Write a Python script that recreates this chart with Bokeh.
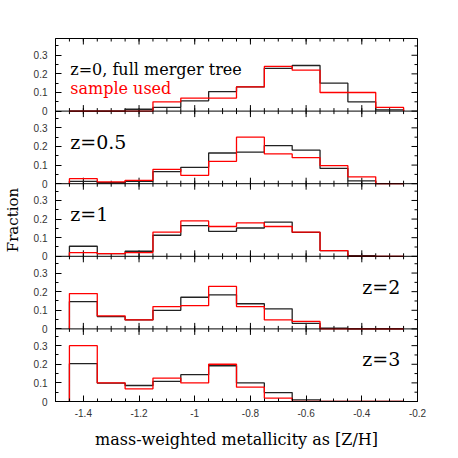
import math
from bokeh.plotting import figure
from bokeh.models import FixedTicker, Label, Span
from bokeh.embed import file_html
from bokeh.resources import INLINE

# ---- data ----
bin_centers = [-1.4, -1.3, -1.2, -1.1, -1.0, -0.9, -0.8, -0.7, -0.6, -0.5, -0.4, -0.3]
bin_width = 0.1

full_z0 = [0.0, 0.0, 0.01, 0.02, 0.055, 0.105, 0.13, 0.23, 0.245, 0.15, 0.05, 0.007]
used_z0 = [0.0, 0.0, 0.0, 0.05, 0.07, 0.07, 0.13, 0.24, 0.22, 0.10, 0.10, 0.02]
full_z05 = [0.013, 0.005, 0.013, 0.065, 0.088, 0.165, 0.17, 0.205, 0.18, 0.082, 0.015, 0.0]
used_z05 = [0.027, 0.01, 0.018, 0.077, 0.045, 0.12, 0.25, 0.16, 0.14, 0.097, 0.037, 0.0]
full_z1 = [0.054, 0.014, 0.027, 0.113, 0.165, 0.134, 0.152, 0.184, 0.128, 0.03, 0.003, 0.0]
used_z1 = [0.02, 0.014, 0.02, 0.13, 0.19, 0.16, 0.18, 0.16, 0.13, 0.03, 0.0, 0.0]
full_z2 = [0.147, 0.066, 0.048, 0.10, 0.17, 0.183, 0.135, 0.108, 0.03, 0.004, 0.0, 0.0]
used_z2 = [0.19, 0.07, 0.048, 0.12, 0.125, 0.228, 0.12, 0.048, 0.04, 0.0, 0.0, 0.0]
full_z3 = [0.203, 0.099, 0.086, 0.108, 0.144, 0.192, 0.10, 0.048, 0.009, 0.0, 0.0, 0.0]
used_z3 = [0.30, 0.10, 0.068, 0.126, 0.10, 0.20, 0.077, 0.018, 0.0, 0.0, 0.0, 0.0]

panel_full = [full_z0, full_z05, full_z1, full_z2, full_z3]
panel_used = [used_z0, used_z05, used_z1, used_z2, used_z3]
panel_labels = ["z=0, full merger tree", "z=0.5", "z=1", "z=2", "z=3"]
used_label = "sample used"

x_major = [-1.4, -1.2, -1.0, -0.8, -0.6, -0.4, -0.2]
x_major_labels = ["-1.4", "-1.2", "-1", "-0.8", "-0.6", "-0.4", "-0.2"]
x_minor = [round(-1.5 + 0.05 * i, 2) for i in range(27)]
y_major = [0.0, 0.1, 0.2, 0.3]
y_major_labels = ["0", "0.1", "0.2", "0.3"]
y_minor = [0.05, 0.15, 0.25, 0.35]

x_title = "mass-weighted metallicity as [Z/H]"
y_title = "Fraction"

X0, X1 = -1.5, -0.2
PANEL_H = 0.39          # data height of one panel
NP = len(panel_full)

SERIF = "DejaVu Serif"
SANS = "Liberation Sans"
BLACK = "#222222"
RED = "#ff0000"


def step_xy(vals, off):
    edges = [c - bin_width / 2 for c in bin_centers] + [bin_centers[-1] + bin_width / 2]
    xs = [edges[0]] + edges
    ys = [off] + [v + off for v in vals] + [off]
    return xs, ys


offsets = [round((NP - 1 - i) * PANEL_H, 4) for i in range(NP)]

p = figure(
    frame_width=362, frame_height=363,
    x_range=(X0, X1), y_range=(0, NP * PANEL_H),
    output_backend="svg", toolbar_location=None,
    min_border_left=49, min_border_right=20, min_border_top=38, min_border_bottom=46,
    background_fill_color="white", border_fill_color="white",
    outline_line_color="black",
)
p.grid.visible = False

# y axis (left), ticks for every panel
y_ticks, y_tick_labels, y_minors = [], [], []
for off in offsets:
    for t, l in zip(y_major, y_major_labels):
        y_ticks.append(round(off + t, 4))
        y_tick_labels.append(l)
    for t in y_minor:
        y_minors.append(round(off + t, 4))

for ax, ticks, minors, labels in ((p.xaxis[0], x_major, x_minor, x_major_labels),
                                  (p.yaxis[0], y_ticks, y_minors, y_tick_labels)):
    ax.ticker = FixedTicker(ticks=ticks, minor_ticks=minors)
    ax.major_label_overrides = {t: l for t, l in zip(ticks, labels)}
    ax.major_tick_in = 6
    ax.major_tick_out = 0
    ax.minor_tick_in = 3
    ax.minor_tick_out = 0
    ax.axis_line_color = "black"
    ax.major_tick_line_color = "black"
    ax.minor_tick_line_color = "black"
    ax.major_label_text_font = SANS
    ax.major_label_text_font_size = "10px"
    ax.major_label_text_color = "#333333"
    ax.axis_label_text_font = SERIF
    ax.axis_label_text_font_style = "normal"
    ax.axis_label_text_color = "black"

p.xaxis[0].major_label_standoff = 7
p.xaxis[0].axis_label = x_title
p.xaxis[0].axis_label_text_font_size = "16px"
p.xaxis[0].axis_label_standoff = 10
p.yaxis[0].major_label_standoff = 8
p.yaxis[0].axis_label = y_title
p.yaxis[0].axis_label_text_font_size = "15px"
p.yaxis[0].axis_label_standoff = 9

# panel separators and inner ticks (top/bottom edges of panels, right edge)
for i, off in enumerate(offsets):
    top = round(off + PANEL_H, 4)
    p.add_layout(Span(location=off, dimension="width", line_color="black", line_width=1))
    p.ray(x=x_major, y=[top] * len(x_major), length=6, length_units="screen",
          angle=-math.pi / 2, line_color="black", line_width=1)
    p.ray(x=x_minor, y=[top] * len(x_minor), length=3, length_units="screen",
          angle=-math.pi / 2, line_color="black", line_width=1)
    if off > 0:
        p.ray(x=x_major, y=[off] * len(x_major), length=6, length_units="screen",
              angle=math.pi / 2, line_color="black", line_width=1)
        p.ray(x=x_minor, y=[off] * len(x_minor), length=3, length_units="screen",
              angle=math.pi / 2, line_color="black", line_width=1)

p.ray(x=[X1] * len(y_ticks), y=y_ticks, length=6, length_units="screen",
      angle=math.pi, line_color="black", line_width=1)
p.ray(x=[X1] * len(y_minors), y=y_minors, length=3, length_units="screen",
      angle=math.pi, line_color="black", line_width=1)

# histograms
for i, off in enumerate(offsets):
    xs, ys = step_xy(panel_full[i], off)
    p.step(xs, ys, mode="after", line_color=BLACK, line_width=1.3)
    xs, ys = step_xy(panel_used[i], off)
    p.step(xs, ys, mode="after", line_color=RED, line_width=1.3)

# panel labels
o = offsets
p.add_layout(Label(x=-1.447, y=o[0] + 0.225, text=panel_labels[0], text_font=SERIF,
                   text_font_size="16px", text_color="black",
                   text_baseline="middle", text_align="left"))
p.add_layout(Label(x=-1.447, y=o[0] + 0.123, text=used_label, text_font=SERIF,
                   text_font_size="16px", text_color=RED,
                   text_baseline="middle", text_align="left"))
for i in (1, 2):
    p.add_layout(Label(x=-1.447, y=o[i] + 0.225, text=panel_labels[i], text_font=SERIF,
                       text_font_size="19px", text_color="black",
                       text_baseline="middle", text_align="left"))
for i in (3, 4):
    p.add_layout(Label(x=-0.262, y=o[i] + 0.227, text=panel_labels[i], text_font=SERIF,
                       text_font_size="19px", text_color="black",
                       text_baseline="middle", text_align="right"))

open("out.html", "w").write(file_html(p, INLINE))
